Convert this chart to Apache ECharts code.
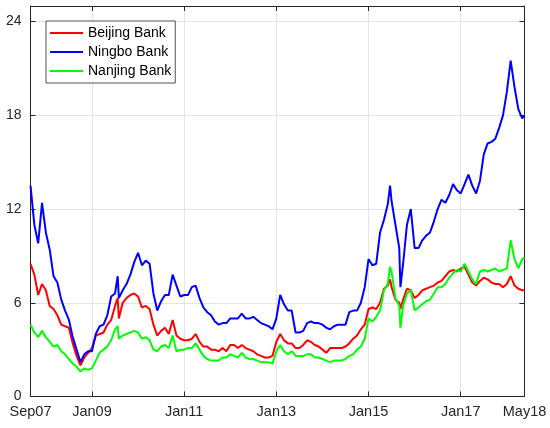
<!DOCTYPE html>
<html>
<head>
<meta charset="utf-8">
<script src="https://cdn.jsdelivr.net/npm/echarts@6/dist/echarts.min.js"></script>
<style>
html,body{margin:0;padding:0;background:#fff;}
#chart{width:550px;height:428px;}
</style>
</head>
<body>
<div id="chart"></div>
<script>
// x = months since Sep 2007
const months = [
 0,1,2,3,4,5,6,7,8,9,
 10,11,12,13,14,15,16,17,18,19,
 20,21,22,22.7,
 23,24,25,26,27,28,29,
 30,31,32,33,34,35,36,37,38,39,
 40,41,42,43,44,45,46,47,48,49,
 50,51,52,53,54,55,56,57,58,59,
 60,61,62,63,64,65,66,67,68,69,
 70,71,72,73,74,75,76,77,78,79,
 80,81,82,83,84,85,86,87,88,89,
 90,91,92,93,93.6,
 94,95,96,96.3,
 97,98,99,
 100,101,102,103,104,105,106,107,108,109,
 110,111,112,113,114,115,116,117,118,119,
 120,121,122,123,124,125,126,127,128,128.6
];
const beijing = [
 8.5,7.8,6.5,7.2,6.8,5.8,5.6,5.2,4.6,4.5,
 4.4,3.4,2.6,2.0,2.5,2.8,3.1,3.9,4.0,4.1,
 4.6,4.9,5.8,6.3,
 5.0,6.0,6.3,6.5,6.6,6.4,5.7,
 5.8,5.6,4.6,3.9,4.2,4.4,4.0,4.9,3.9,3.7,
 3.6,3.6,3.7,4.0,3.5,3.2,3.2,3.0,3.0,2.9,
 3.1,2.9,3.3,3.3,3.1,3.3,3.1,3.0,2.9,2.7,
 2.6,2.5,2.5,2.6,3.5,4.0,3.6,3.4,3.4,3.1,
 3.1,3.3,3.6,3.5,3.3,3.2,3.0,2.8,3.1,3.1,
 3.1,3.1,3.2,3.4,3.7,3.9,4.3,4.6,5.6,5.7,
 5.6,6.0,6.9,7.1,7.5,
 7.0,6.2,6.0,5.6,
 6.2,6.9,6.8,
 6.3,6.5,6.8,6.9,7.0,7.1,7.3,7.4,7.7,8.0,
 8.1,8.0,8.2,8.3,7.8,7.3,7.1,7.4,7.6,7.5,
 7.3,7.2,7.2,7.0,7.2,7.7,7.1,6.9,6.8,6.8
];
const ningbo = [
 13.5,11.0,9.8,12.4,10.5,9.4,7.7,7.3,6.2,5.5,
 4.9,3.8,3.0,2.2,2.7,2.9,2.9,4.0,4.5,4.6,
 5.2,6.4,6.6,7.7,
 6.3,6.8,7.2,7.8,8.6,9.2,8.4,
 8.7,8.5,6.6,5.5,6.1,6.5,6.5,7.8,7.1,6.4,
 6.5,6.5,7.0,7.1,6.3,5.7,5.4,5.2,4.8,4.6,
 4.7,4.7,5.0,5.0,5.0,5.3,5.0,5.0,5.1,4.9,
 4.7,4.6,4.5,4.3,5.0,6.5,5.9,5.5,5.5,4.1,
 4.1,4.2,4.7,4.8,4.7,4.7,4.6,4.4,4.3,4.5,
 4.6,4.6,4.6,5.4,5.5,5.5,6.0,7.0,8.8,8.4,
 8.5,10.5,11.3,12.3,13.5,
 12.5,11.0,9.5,7.0,
 8.5,11.0,12.0,
 9.5,9.5,10.0,10.3,10.5,11.2,12.0,12.6,12.4,12.9,
 13.6,13.2,13.0,13.6,14.2,13.5,13.0,13.8,15.5,16.2,
 16.3,16.5,17.2,18.0,19.5,21.5,19.8,18.4,17.8,18.0
];
const nanjing = [
 4.6,4.1,3.8,4.2,3.8,3.5,3.2,3.3,2.9,2.7,
 2.4,2.1,1.9,1.6,1.8,1.7,1.8,2.3,2.8,3.0,
 3.2,3.6,4.3,4.5,
 3.7,3.9,4.0,4.1,4.2,4.1,3.7,
 3.8,3.6,3.0,2.9,3.2,3.3,3.1,3.9,2.9,3.0,
 3.0,3.1,3.1,3.4,3.0,2.6,2.4,2.3,2.3,2.3,
 2.5,2.5,2.7,2.6,2.5,2.8,2.5,2.4,2.4,2.3,
 2.2,2.2,2.2,2.1,2.9,3.3,2.9,2.7,2.9,2.6,
 2.6,2.6,2.7,2.7,2.5,2.5,2.4,2.3,2.2,2.3,
 2.3,2.3,2.4,2.6,2.7,3.0,3.2,3.7,5.0,4.8,
 5.1,5.5,6.8,7.2,8.3,
 8.0,6.3,5.8,4.4,
 5.8,6.6,6.8,
 5.5,5.7,5.9,6.1,6.2,6.6,7.0,7.0,7.2,7.6,
 7.9,8.1,8.0,8.5,8.0,7.5,7.2,8.0,8.1,8.0,
 8.1,8.2,8.0,8.1,8.2,10.0,8.8,8.2,8.8,8.9
];
const seriesNames = ['Beijing Bank','Ningbo Bank','Nanjing Bank'];
const tickMonths = [0,16,40,64,88,112,128.6];
const tickLabels = ['Sep07','Jan09','Jan11','Jan13','Jan15','Jan17','May18'];
const yTicks = [0,6,12,18,24];

function pairs(vals){ return months.map((m,i)=>[m, vals[i]]); }

const axisColor = '#262626';
const gridColor = '#e4e4e4';
const font = 'Arial, "Liberation Sans", Helvetica, sans-serif';

const chart = echarts.init(document.getElementById('chart'), null, {renderer:'canvas'});
chart.setOption({
  animation:false,
  backgroundColor:'#fff',
  grid:{left:30.5, right:25.5, top:6, bottom:31.5, containLabel:false},
  legend:{
    data:seriesNames,
    orient:'vertical',
    left:46, top:21,
    icon:'rect',
    itemWidth:33, itemHeight:2,
    itemGap:5,
    padding:[5,4,5,4],
    backgroundColor:'#fff',
    borderColor:axisColor,
    borderWidth:0.8,
    textStyle:{fontSize:14, color:'#000', fontFamily:font}
  },
  xAxis:[{
    type:'value', min:0, max:128.6, position:'bottom',
    axisLine:{show:true, onZero:false, lineStyle:{color:axisColor, width:1}},
    axisTick:{show:true, inside:true, length:5, customValues:tickMonths, lineStyle:{color:axisColor}},
    axisLabel:{show:true, customValues:tickMonths, margin:8, fontSize:14.5, color:axisColor, fontFamily:font,
      formatter:function(v){ const i = tickMonths.indexOf(v); return i>=0 ? tickLabels[i] : ''; }},
    splitLine:{show:true, lineStyle:{color:gridColor, width:1}}
  },{
    type:'value', min:0, max:128.6, position:'top',
    axisLine:{show:true, onZero:false, lineStyle:{color:axisColor, width:1}},
    axisTick:{show:true, inside:true, length:5, customValues:tickMonths, lineStyle:{color:axisColor}},
    axisLabel:{show:false, customValues:tickMonths},
    splitLine:{show:false}
  }],
  yAxis:[{
    type:'value', min:0, max:25, position:'left',
    axisLine:{show:true, onZero:false, lineStyle:{color:axisColor, width:1}},
    axisTick:{show:true, inside:true, length:5, customValues:yTicks, lineStyle:{color:axisColor}},
    axisLabel:{show:true, customValues:yTicks, margin:9, fontSize:14, color:axisColor, fontFamily:font},
    splitLine:{show:true, lineStyle:{color:gridColor, width:1}}
  },{
    type:'value', min:0, max:25, position:'right',
    axisLine:{show:true, onZero:false, lineStyle:{color:axisColor, width:1}},
    axisTick:{show:true, inside:true, length:5, customValues:yTicks, lineStyle:{color:axisColor}},
    axisLabel:{show:false, customValues:yTicks},
    splitLine:{show:false}
  }],
  series:[
    {name:seriesNames[0], type:'line', data:pairs(beijing), symbol:'none', color:'#ff0000',
     lineStyle:{color:'#ff0000', width:2}, xAxisIndex:0, yAxisIndex:0},
    {name:seriesNames[1], type:'line', data:pairs(ningbo), symbol:'none', color:'#0000ff',
     lineStyle:{color:'#0000ff', width:2}, xAxisIndex:0, yAxisIndex:0},
    {name:seriesNames[2], type:'line', data:pairs(nanjing), symbol:'none', color:'#00ff00',
     lineStyle:{color:'#00ff00', width:2}, xAxisIndex:0, yAxisIndex:0}
  ]
});
</script>
</body>
</html>
